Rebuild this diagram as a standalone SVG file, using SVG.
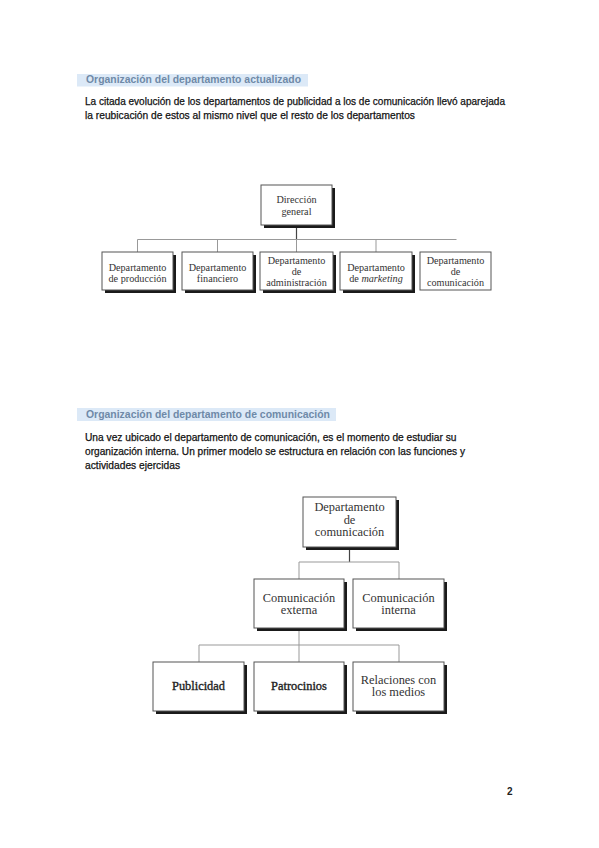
<svg xmlns="http://www.w3.org/2000/svg" width="599" height="848" viewBox="0 0 599 848">
<style>
.bg{fill:#ffffff}
.hl{fill:#dce9f7}
.hd{font-family:"Liberation Sans",Arial,sans-serif;font-size:11px;font-weight:bold;fill:#6f89a8}
.bd{font-family:"Liberation Sans",Arial,sans-serif;font-size:10.5px;fill:#111;stroke:#111;stroke-width:0.25}
.pg{font-family:"Liberation Sans",Arial,sans-serif;font-size:10px;font-weight:bold;fill:#222}
.box{fill:#ffffff;stroke:#555;stroke-width:1}
.sh{fill:#1a1a1a}
.t1{font-family:"Liberation Serif","Times New Roman",serif;font-size:10.2px;fill:#333;text-anchor:middle}
.t2{font-family:"Liberation Serif","Times New Roman",serif;font-size:12.4px;fill:#333;text-anchor:middle}
.t2b{font-family:"Liberation Serif","Times New Roman",serif;font-size:12.4px;fill:#222;stroke:#222;stroke-width:0.35;text-anchor:middle}
.ln{stroke:#999;stroke-width:1;fill:none}
.tr{stroke:#444;stroke-width:1.2;fill:none}
</style>
<rect class="bg" x="0" y="0" width="599" height="848"/>

<!-- Section 1 text -->
<rect class="hl" x="77" y="74" width="231" height="12.5"/>
<text class="hd" x="86" y="82.5" textLength="215" lengthAdjust="spacingAndGlyphs">Organización del departamento actualizado</text>
<text class="bd" x="85" y="104.5" textLength="420" lengthAdjust="spacingAndGlyphs">La citada evolución de los departamentos de publicidad a los de comunicación  llevó aparejada</text>
<text class="bd" x="85" y="119" textLength="330" lengthAdjust="spacingAndGlyphs">la reubicación de estos al mismo nivel que el resto de los departamentos</text>

<!-- Diagram 1 connectors -->
<g id="connectors1">
<line class="tr" x1="296.5" y1="225" x2="296.5" y2="239.5"/>
<line class="ln" x1="137.5" y1="239.5" x2="456.5" y2="239.5"/>
<line class="ln" x1="137.5" y1="239.5" x2="137.5" y2="252"/>
<line class="ln" x1="217.5" y1="239.5" x2="217.5" y2="252"/>
<line class="ln" x1="296.5" y1="239.5" x2="296.5" y2="252"/>
<line class="ln" x1="376" y1="239.5" x2="376" y2="252"/>
</g>

<g id="direccion-general">
<rect class="sh" x="264" y="188" width="71" height="40"/>
<rect class="box" x="261" y="185" width="71" height="40"/>
<text class="t1" x="296.5" y="203">Dirección</text>
<text class="t1" x="296.5" y="215">general</text>
</g>
<g id="dep-produccion">
<rect class="sh" x="105" y="255" width="71" height="38"/>
<rect class="box" x="102" y="252" width="71" height="38"/>
<text class="t1" x="137.5" y="270.5">Departamento</text>
<text class="t1" x="137.5" y="282">de producción</text>
</g>
<g id="dep-financiero">
<rect class="sh" x="185" y="255" width="71" height="38"/>
<rect class="box" x="182" y="252" width="71" height="38"/>
<text class="t1" x="217.5" y="270.5">Departamento</text>
<text class="t1" x="217.5" y="282">financiero</text>
</g>
<g id="dep-administracion">
<rect class="sh" x="263" y="255" width="73" height="38"/>
<rect class="box" x="260" y="252" width="73" height="38"/>
<text class="t1" x="296.5" y="263.5">Departamento</text>
<text class="t1" x="296.5" y="274.5">de</text>
<text class="t1" x="296.5" y="285.5">administración</text>
</g>
<g id="dep-marketing">
<rect class="sh" x="343" y="255" width="72" height="38"/>
<rect class="box" x="340" y="252" width="72" height="38"/>
<text class="t1" x="376" y="270.5">Departamento</text>
<text class="t1" x="376" y="282">de <tspan font-style="italic">marketing</tspan></text>
</g>
<g id="dep-comunicacion">
<rect class="box" x="420" y="252" width="71" height="38"/>
<text class="t1" x="455.5" y="263.5">Departamento</text>
<text class="t1" x="455.5" y="274.5">de</text>
<text class="t1" x="455.5" y="285.5">comunicación</text>
</g>

<!-- Section 2 text -->
<rect class="hl" x="77" y="408" width="259" height="13"/>
<text class="hd" x="86" y="417.5" textLength="244" lengthAdjust="spacingAndGlyphs">Organización del departamento de comunicación</text>
<text class="bd" x="85" y="441" textLength="371.5" lengthAdjust="spacingAndGlyphs">Una vez ubicado el departamento de comunicación, es  el momento de estudiar su</text>
<text class="bd" x="85" y="455" textLength="380" lengthAdjust="spacingAndGlyphs">organización interna. Un primer modelo se estructura en relación con las funciones y</text>
<text class="bd" x="85" y="469" textLength="95" lengthAdjust="spacingAndGlyphs">actividades ejercidas</text>

<!-- Diagram 2 connectors -->
<g id="connectors2">
<line class="tr" x1="349.5" y1="547" x2="349.5" y2="562"/>
<line class="ln" x1="299" y1="562" x2="399" y2="562"/>
<line class="ln" x1="299" y1="562" x2="299" y2="579"/>
<line class="ln" x1="399" y1="562" x2="399" y2="579"/>
<line class="ln" x1="299" y1="628" x2="299" y2="662"/>
<line class="ln" x1="199" y1="645" x2="399" y2="645"/>
<line class="ln" x1="199" y1="645" x2="199" y2="662"/>
<line class="ln" x1="399" y1="645" x2="399" y2="662"/>
</g>

<g id="departamento-comunicacion">
<rect class="sh" x="306" y="500" width="93" height="50"/>
<rect class="box" x="303" y="497" width="93" height="50"/>
<text class="t2" x="349.5" y="511">Departamento</text>
<text class="t2" x="349.5" y="523.5">de</text>
<text class="t2" x="349.5" y="536">comunicación</text>
</g>
<g id="comunicacion-externa">
<rect class="sh" x="257" y="582" width="90" height="49"/>
<rect class="box" x="254" y="579" width="90" height="49"/>
<text class="t2" x="299" y="601.5">Comunicación</text>
<text class="t2" x="299" y="614">externa</text>
</g>
<g id="comunicacion-interna">
<rect class="sh" x="356" y="582" width="91" height="49"/>
<rect class="box" x="353" y="579" width="91" height="49"/>
<text class="t2" x="398.5" y="601.5">Comunicación</text>
<text class="t2" x="398.5" y="614">interna</text>
</g>
<g id="publicidad">
<rect class="sh" x="156" y="665" width="91" height="49"/>
<rect class="box" x="153" y="662" width="91" height="49"/>
<text class="t2b" x="198.5" y="690">Publicidad</text>
</g>
<g id="patrocinios">
<rect class="sh" x="257" y="665" width="90" height="49"/>
<rect class="box" x="254" y="662" width="90" height="49"/>
<text class="t2b" x="299" y="690">Patrocinios</text>
</g>
<g id="relaciones-medios">
<rect class="sh" x="356" y="665" width="91" height="49"/>
<rect class="box" x="353" y="662" width="91" height="49"/>
<text class="t2" x="398.5" y="683.5">Relaciones con</text>
<text class="t2" x="398.5" y="696">los medios</text>
</g>

<text class="pg" x="507" y="795">2</text>
</svg>
